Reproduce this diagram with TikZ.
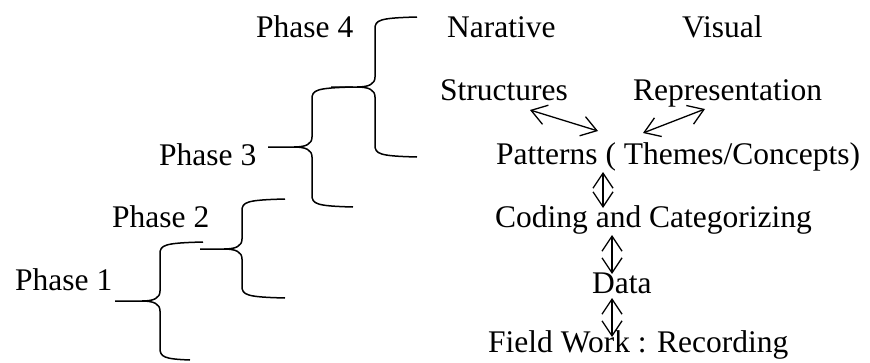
\documentclass[tikz,border=0pt]{standalone}
\usepackage{fontspec}
\setmainfont{Liberation Serif}
\usetikzlibrary{arrows.meta}
\newcommand\phbrace[7]{%
 % #1 xv, #2 yt, #3 ym, #4 yb, #5 x top end, #6 x bottom end, #7 x tip
 \draw[bracel] (#5,#2) .. controls (#1+4,#2+1) and (#1,#2+3) .. (#1,#2+12)
   -- (#1,#3-10) .. controls (#1,#3-3) and (#1-6,#3) .. (#1-18,#3) -- (#7,#3);
 \draw[bracel] (#6,#4) .. controls (#1+4,#4-1) and (#1,#4-3) .. (#1,#4-12)
   -- (#1,#3+10) .. controls (#1,#3+3) and (#1-6,#3) .. (#1-18,#3);
}
\begin{document}
\begin{tikzpicture}[x=1pt,y=-1pt,
  lbl/.style={anchor=base west,inner sep=0pt,font=\fontsize{31.5}{36}\selectfont},
  bracel/.style={line width=1.5pt},
  dbl/.style={line width=1.3pt,{Straight Barb[length=15pt,width=20pt]}-{Straight Barb[length=15pt,width=20pt]}}]
\useasboundingbox (0,0) rectangle (870,362);
% labels
\node[lbl] (p4) at (256,37) {Phase 4};
\node[lbl] (p3) at (159,165) {Phase 3};
\node[lbl] (p2) at (112,227) {Phase 2};
\node[lbl] (p1) at (15,290) {Phase 1};
\node[lbl] (nar) at (447,37) {Narative};
\node[lbl] (vis) at (682,37) {Visual};
\node[lbl] (str) at (440,100) {Structures};
\node[lbl] (rep) at (633,100) {Representation};
\node[lbl] (pat) at (496,164) {Patterns ( Themes/Concepts)};
\node[lbl] (cod) at (495,227) {Coding and Categorizing};
\node[lbl] (dat) at (592,293) {Data};
\node[lbl] (fld) at (488,352) {Field Work : Recording};
% braces
\phbrace{160}{242}{301}{360}{203}{190}{115}
\phbrace{242}{199}{249}{298}{285}{285}{200}
\phbrace{312}{87}{147}{207}{353}{353}{268}
\phbrace{375}{17}{87}{157}{417}{417}{331}
% arrow ends
\coordinate (s1) at (530,110); \coordinate (s2) at (598,131);
\coordinate (r1) at (705,109); \coordinate (r2) at (643,133);
\coordinate (c1) at (603,172); \coordinate (c2) at (603,208);
\coordinate (d1) at (612,235); \coordinate (d2) at (612,274);
\coordinate (f1) at (612,298); \coordinate (f2) at (612,337);
\draw[dbl] (s1) -- (s2);
\draw[dbl] (r1) -- (r2);
\draw[dbl] (c1) -- (c2);
\draw[dbl] (d1) -- (d2);
\draw[dbl] (f1) -- (f2);
\end{tikzpicture}
\end{document}
